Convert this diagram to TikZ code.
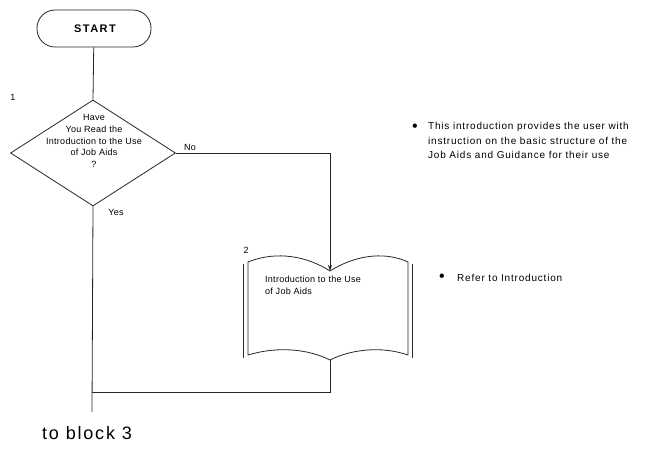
\documentclass[tikz,border=0pt]{standalone}
\usepackage{fontspec}
\setmainfont{Liberation Sans}
\usetikzlibrary{shapes.geometric,arrows.meta}
\tikzset{
  line/.style={line width=0.8pt, draw=black!85},
  txt/.style={font=\fontsize{9}{11.8}\selectfont\addfontfeatures{LetterSpace=3}, inner sep=0pt},
  notetxt/.style={font=\fontsize{10}{14.5}\selectfont\addfontfeatures{LetterSpace=8}, inner sep=0pt, align=left},
  bullet/.style={font=\fontsize{16}{16}\selectfont, inner sep=0pt},
  terminal/.style={line, rectangle, rounded corners=18pt, minimum width=114pt, minimum height=37pt, inner sep=0pt},
  decision/.style={line, diamond, minimum width=165pt, minimum height=106pt, inner sep=0pt},
}
\begin{document}
\begin{tikzpicture}[x=1pt,y=-1pt]
\useasboundingbox (0,0) rectangle (645,449);

% START terminal
\node[terminal] (start) at (94,28.5) {};
\node[font=\fontsize{11}{13}\selectfont\bfseries\addfontfeatures{LetterSpace=13}, inner sep=0pt] (starttxt) at (95,28.5) {START};

% decision
\node[decision] (q) at (93,153) {};
\node[txt, align=center] (qtxt) at (94,141) {Have\\You Read the\\Introduction to the Use\\of Job Aids\\?};
\node[txt] (n1) at (13,97) {1};

% labels
\node[txt] (no) at (190,147) {No};
\node[txt] (yes) at (116,212) {Yes};

% book (document) shape
\coordinate (btl) at (248,262);
\coordinate (btop) at (330,271);
\coordinate (btr) at (408,262);
\coordinate (bbr) at (408,355);
\coordinate (bbot) at (330,360);
\coordinate (bbl) at (248,355);
\draw[line] (btl) .. controls (278,250) and (308,257) .. (btop)
  .. controls (352,257) and (382,250) .. (btr) -- (bbr)
  .. controls (382,346) and (352,349) .. (bbot)
  .. controls (308,349) and (278,346) .. (bbl) -- cycle;
\coordinate (lpt) at (243,264);
\coordinate (lpb) at (243,358);
\coordinate (rpt) at (412,264);
\coordinate (rpb) at (412,358);
\draw[line] (lpt) -- (lpb);
\draw[line] (rpt) -- (rpb);
\node[txt, align=left, anchor=west] (booktxt) at (265,285.5) {Introduction to the Use\\of Job Aids};
\node[txt] (n2) at (246,250) {2};

% notes
\node[bullet] (b1) at (415,128) {•};
\node[notetxt, anchor=north west] (note1) at (428,122.5) {This introduction provides the user with\\instruction on the basic structure of the\\Job Aids and Guidance for their use};
\node[bullet] (b2) at (442,278) {•};
\node[notetxt, anchor=west] (note2) at (457,278) {Refer to Introduction};

% connectors
\coordinate (yesend) at (92,412);
\coordinate (join) at (92,392);
\draw[line] (start) -- (q.north);
\draw[line, -{Stealth[length=6pt,width=4pt]}] (q.east) -| (btop);
\draw[line] (q.south) -- (yesend);
\draw[line] (bbot) |- (join);

\node[font=\fontsize{18}{20}\selectfont\addfontfeatures{LetterSpace=10}, inner sep=0pt, anchor=west] (toblock) at (42,433) {to block 3};
\end{tikzpicture}
\end{document}
